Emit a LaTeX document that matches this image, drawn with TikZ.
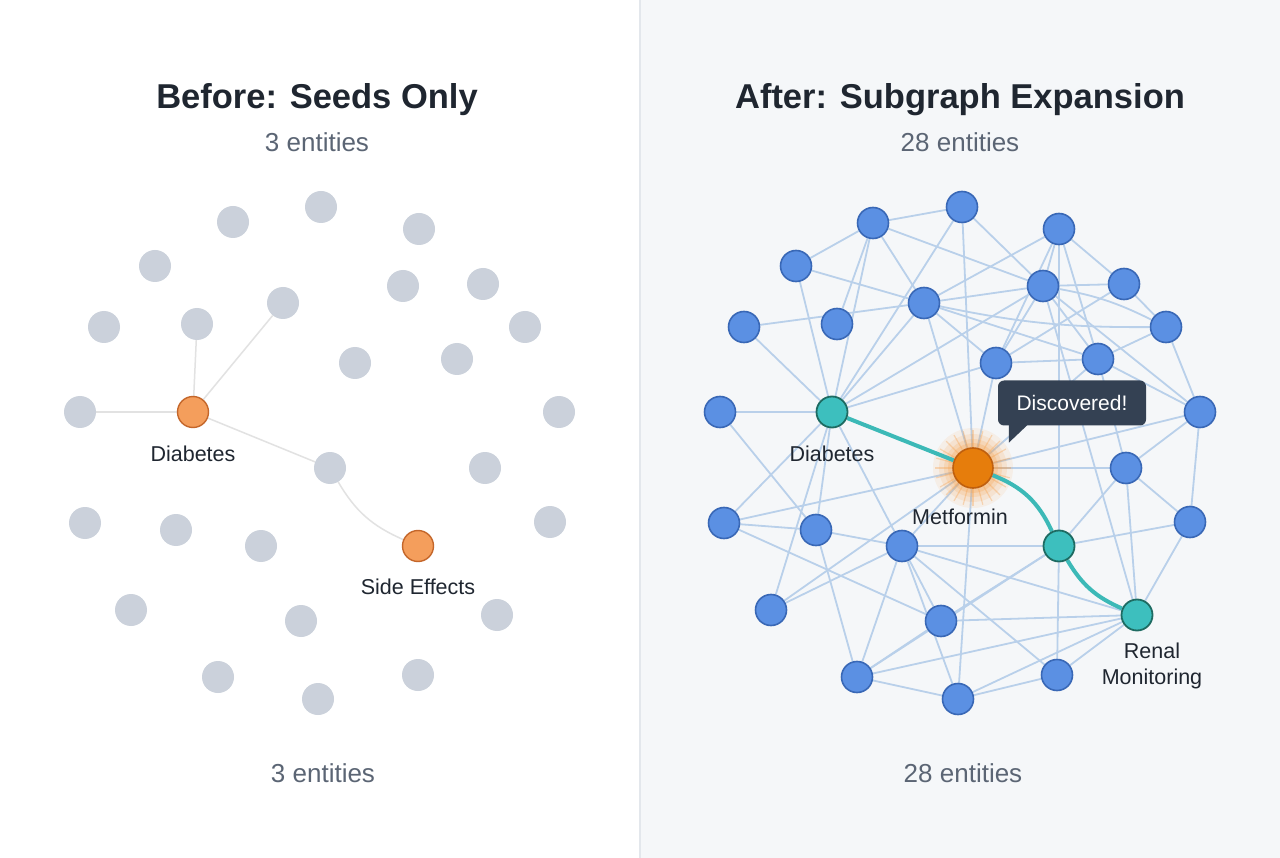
\documentclass[tikz,border=0pt]{standalone}
\usepackage{fontspec}
\setmainfont{Liberation Sans}
\usetikzlibrary{calc}
\definecolor{rpanel}{HTML}{F5F7F9}
\definecolor{divider}{HTML}{E3E7EC}
\definecolor{titlec}{HTML}{1F2630}
\definecolor{subc}{HTML}{5B6574}
\definecolor{graynode}{HTML}{CBD1DB}
\definecolor{lorange}{HTML}{F49E5C}
\definecolor{lorangeb}{HTML}{C4662A}
\definecolor{ledge}{HTML}{E2E2E2}
\definecolor{bluef}{HTML}{5B90E3}
\definecolor{blued}{HTML}{3968B6}
\definecolor{redgec}{HTML}{B9D0EA}
\definecolor{tealf}{HTML}{3DBFBE}
\definecolor{teald}{HTML}{1E6B62}
\definecolor{tealedge}{HTML}{3CB9B7}
\definecolor{metf}{HTML}{E67D0C}
\definecolor{metd}{HTML}{BF5F0E}
\definecolor{glow}{HTML}{F7A04A}
\definecolor{callc}{HTML}{344153}
\pgfdeclarelayer{bg}
\pgfdeclarelayer{edges}
\pgfsetlayers{bg,edges,main}
\tikzset{
  gnode/.style={circle, fill=graynode, minimum size=32pt, inner sep=0pt},
  onode/.style={circle, fill=lorange, draw=lorangeb, line width=1.4pt, minimum size=31pt, inner sep=0pt},
  bnode/.style={circle, fill=bluef, draw=blued, line width=1.6pt, minimum size=31pt, inner sep=0pt},
  tnode/.style={circle, fill=tealf, draw=teald, line width=1.8pt, minimum size=31pt, inner sep=0pt},
  mnode/.style={circle, fill=metf, draw=metd, line width=1.6pt, minimum size=40pt, inner sep=0pt},
  ledgest/.style={draw=ledge, line width=1.5pt},
  redge/.style={draw=redgec, line width=1.8pt},
  tedge/.style={draw=tealedge, line width=4pt},
  glowray/.style={draw=glow, line width=1.2pt, opacity=0.35},
  title/.style={anchor=base, inner sep=0pt, text=titlec, font=\fontsize{34.5}{40}\selectfont\bfseries},
  sub/.style={anchor=base, inner sep=0pt, text=subc, font=\fontsize{26}{30}\selectfont},
  lbl/.style={anchor=base, inner sep=0pt, text=titlec, font=\fontsize{21.5}{25}\selectfont},
  callout/.style={fill=callc, rounded corners=6pt, text=white, minimum width=148pt, minimum height=45pt, inner sep=0pt, font=\fontsize{21}{24}\selectfont},
}
\begin{document}
\begin{tikzpicture}[x=1pt,y=-1pt]
\useasboundingbox (0,0) rectangle (1280,858);
\begin{pgfonlayer}{bg}
  \fill[white] (0,0) rectangle (640,858);
  \fill[rpanel] (640,0) rectangle (1280,858);
  \draw[divider, line width=1.2pt] (640,0) -- (640,858);
\end{pgfonlayer}

% titles
\node[title] (tl) at (317,109) {Before: Seeds Only};
\node[sub] (sl) at (317,152) {3 entities};
\node[sub] (bl) at (323,782) {3 entities};
\node[title] (tr) at (960,109) {After: Subgraph Expansion};
\node[sub] (sr) at (960,152) {28 entities};
\node[sub] (br) at (963,782) {28 entities};

% left nodes
\foreach \n/\x/\y in {1/321/207,2/233/222,3/419/229,4/155/266,5/403/286,6/483/284,7/283/303,8/104/327,9/197/324,10/525/327,11/355/363,12/457/359,13/80/412,15/559/412,16/330/468,17/485/468,18/85/523,19/176/530,20/261/546,21/550/522,23/131/610,24/301/621,25/497/615,26/218/677,27/318/699,28/418/675}
  \node[gnode] (L\n) at (\x,\y) {};
\node[onode] (L14) at (193,412) {};
\node[onode] (L22) at (418,546) {};
\node[lbl] (Ldia) at (193,461) {Diabetes};
\node[lbl] (Lside) at (418,594) {Side Effects};

\begin{pgfonlayer}{edges}
  \foreach \a/\b in {14/13,14/9,14/7,14/16}
    \draw[ledgest] (L\a) -- (L\b);
  \draw[ledgest] (L16) to[bend right=18] (L22);
\end{pgfonlayer}

% right nodes
\foreach \n/\x/\y in {1/962/207,2/873/223,3/1059/229,4/796/266,5/1043/286,6/1124/284,7/924/303,8/744/327,9/837/324,10/1166/327,11/996/363,12/1098/359,13/720/412,15/1200/412,17/1126/468,18/724/523,19/816/530,20/902/546,21/1190/522,23/771/610,24/941/621,26/857/677,27/958/699,28/1057/675}
  \node[bnode] (R\n) at (\x,\y) {};
\node[tnode] (R14) at (832,412) {};
\node[mnode] (R16) at (973,468) {};
\node[tnode] (R22) at (1059,546) {};
\node[tnode] (R25) at (1137,615) {};
\node[lbl] (Rdia) at (832,461) {Diabetes};
\node[lbl] (Rmet) at (960,524) {Metformin};
\node[lbl] (Rren1) at (1152,658) {Renal};
\node[lbl] (Rren2) at (1152,684) {Monitoring};

\begin{pgfonlayer}{edges}
  \foreach \a/\b in {2/1,2/4,2/5,2/7,2/14,4/14,4/7,1/14,1/16,1/5,8/7,8/14,13/14,13/19,7/14,7/12,7/11,7/16,7/5,14/11,14/5,3/5,3/6,3/7,3/12,3/11,5/6,5/11,5/12,5/15,6/10,6/11,11/12,12/10,10/15,12/16,12/15,15/16,14/18,14/19,14/20,14/23,18/16,18/19,19/20,19/26,18/24,23/16,23/20,20/16,20/26,20/24,20/22,20/25,20/27,24/26,24/22,24/25,26/27,26/22,26/25,27/16,27/25,16/17,17/21,17/22,17/25,17/12,17/15,21/15,21/22,21/25,3/22,22/28,28/25,28/27,20/28,16/11,5/25,9/2}
    \draw[redge] (R\a) -- (R\b);
  \draw[redge] (R5) to[bend left=8] (R10);
  \draw[redge] (R7) to[bend right=6] (R10);
  % glow around Metformin
  \foreach \r/\o in {40/0.10,34/0.14,29/0.18,25/0.25}
    \fill[glow, opacity=\o] (R16.center) circle (\r);
  \foreach \ang in {0,15,...,345}
    \draw[glowray] ($(R16.center)+(\ang:21)$) -- ($(R16.center)+(\ang:38)$);
  \draw[tedge] (R14) -- (R16);
  \draw[tedge] (R16) to[bend left=22] (R22);
  \draw[tedge] (R22) to[bend right=18] (R25);
\end{pgfonlayer}

% callout
\node[callout] (disc) at (1072,403) {Discovered!};
\fill[callc] ($(disc.south west)+(11,-1)$) -- ($(disc.south west)+(11,17)$) -- ($(disc.south west)+(30,-1)$) -- cycle;
\end{tikzpicture}
\end{document}
